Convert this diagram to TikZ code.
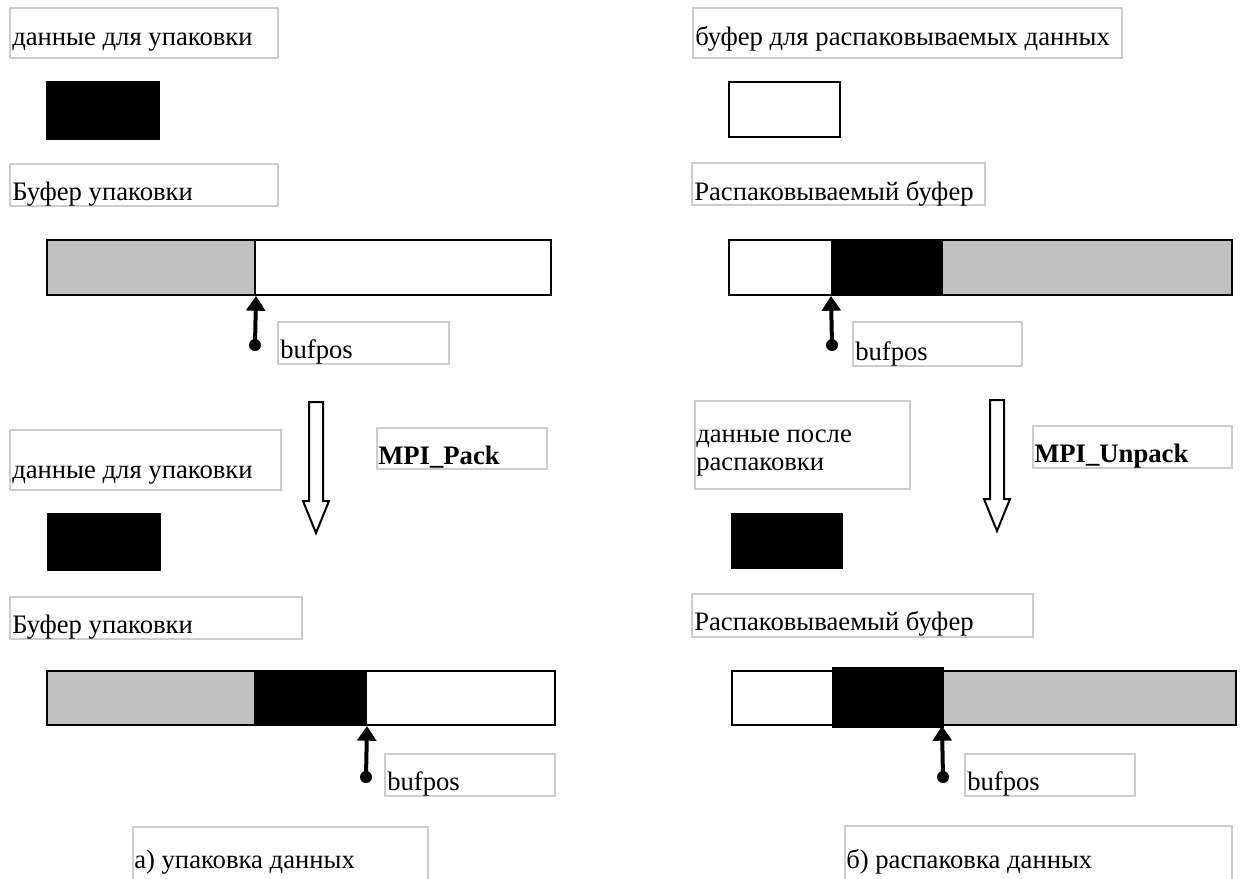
\documentclass[tikz,border=0pt]{standalone}
\usepackage{fontspec}
\setmainfont{Liberation Serif}
\newfontfamily\timesfont{Liberation Serif}
\usetikzlibrary{arrows.meta,fit}
\definecolor{boxgray}{RGB}{205,205,205}
\definecolor{bargray}{RGB}{192,192,192}
\begin{document}
\begin{tikzpicture}[x=0.75pt,y=-0.75pt,
  tbox/.style={draw=boxgray, line width=0.8pt, inner sep=0pt, fit={#1}},
  lbl/.style={anchor=base west, inner sep=0pt, font=\timesfont\fontsize{20}{24}\selectfont},
  blbl/.style={anchor=base west, inner sep=0pt, font=\timesfont\bfseries\fontsize{20}{24}\selectfont},
  seg/.style={draw=black, line width=1.5pt, inner sep=0pt, fit={#1}},
  ptr/.style={line width=3pt, -{Triangle[width=14pt,length=11pt]}},
  hollow/.style={draw=black, line width=1.5pt, fill=white, line join=miter}]
\useasboundingbox (0,0) rectangle (1240,879);

% ===== left: packing =====
\node[tbox={(10,8)(278,58)}] (lt1) {};
\node[lbl] (lt1t) at (12,45) {данные для упаковки};
\node[seg={(47,82)(159,139)}, fill=black] (ld1) {};
\node[tbox={(10,164)(278,206)}] (lt2) {};
\node[lbl] (lt2t) at (12,200) {Буфер упаковки};
\node[seg={(47,240)(255,295)}, fill=bargray] (lb1g) {};
\node[seg={(255,240)(551,295)}, fill=white] (lb1w) {};
\coordinate (lp1) at (255,345);
\draw[ptr] (lp1) -- (lb1g.south east);
\fill (lp1) circle (4.5pt);
\node[tbox={(278,322)(449,364)}] (lbp1) {};
\node[lbl] (lbp1t) at (280,358) {bufpos};

\draw[hollow] (309,402) -- (323,402) -- (323,501) -- (329,501) -- (316,533)
  -- (303,501) -- (309,501) -- cycle;
\node[tbox={(377,428)(547,469)}] (lmpi) {};
\node[blbl] (lmpit) at (378,464) {MPI\_Pack};

\node[tbox={(10,430)(281,490)}] (lt3) {};
\node[lbl] (lt3t) at (12,478) {данные для упаковки};
\node[seg={(48,514)(160,570)}, fill=black] (ld2) {};
\node[tbox={(10,597)(302,639)}] (lt4) {};
\node[lbl] (lt4t) at (12,633) {Буфер упаковки};
\node[seg={(47,671)(255,725)}, fill=bargray] (lb2g) {};
\node[seg={(255,671)(366,725)}, fill=black] (lb2k) {};
\node[seg={(366,671)(555,725)}, fill=white] (lb2w) {};
\coordinate (lp2) at (366,777);
\draw[ptr] (lp2) -- (lb2k.south east);
\fill (lp2) circle (4.5pt);
\node[tbox={(385,754)(555,796)}] (lbp2) {};
\node[lbl] (lbp2t) at (387,790) {bufpos};
\node[tbox={(133,827)(428,885)}] (lcap) {};
\node[lbl] (lcapt) at (134,868) {а) упаковка данных};

% ===== right: unpacking =====
\node[tbox={(693,8)(1122,58)}] (rt1) {};
\node[lbl] (rt1t) at (695,45) {буфер для распаковываемых данных};
\node[seg={(729,82)(840,137)}, fill=white] (rd1) {};
\node[tbox={(692,163)(985,205)}] (rt2) {};
\node[lbl] (rt2t) at (694,200) {Распаковываемый буфер};
\node[seg={(729,240)(832,295)}, fill=white] (rb1w) {};
\node[seg={(832,240)(942,295)}, fill=black] (rb1k) {};
\node[seg={(942,240)(1232,295)}, fill=bargray] (rb1g) {};
\coordinate (rp1) at (832,345);
\draw[ptr] (rp1) -- (rb1k.south west);
\fill (rp1) circle (4.5pt);
\node[tbox={(853,322)(1022,366)}] (rbp1) {};
\node[lbl] (rbp1t) at (855,360) {bufpos};

\node[tbox={(695,401)(910,489)}] (rt3) {};
\node[lbl] (rt3a) at (696,442) {данные после};
\node[lbl] (rt3b) at (696,470) {распаковки};
\draw[hollow] (990,400) -- (1004,400) -- (1004,499) -- (1010,499) -- (997,531)
  -- (984,499) -- (990,499) -- cycle;
\node[tbox={(1033,426)(1232,468)}] (rmpi) {};
\node[blbl] (rmpit) at (1034,462) {MPI\_Unpack};

\node[seg={(732,514)(842,568)}, fill=black] (rd2) {};
\node[tbox={(692,594)(1033,637)}] (rt4) {};
\node[lbl] (rt4t) at (694,630) {Распаковываемый буфер};
\node[seg={(732,671)(833,725)}, fill=white] (rb2w) {};
\node[seg={(943,671)(1236,725)}, fill=bargray] (rb2g) {};
\node[seg={(833,668)(943,727)}, fill=black] (rb2k) {};
\coordinate (rp2) at (943,777);
\draw[ptr] (rp2) -- (rb2g.south west);
\fill (rp2) circle (4.5pt);
\node[tbox={(965,754)(1135,796)}] (rbp2) {};
\node[lbl] (rbp2t) at (967,790) {bufpos};
\node[tbox={(845,826)(1232,885)}] (rcap) {};
\node[lbl] (rcapt) at (846,868) {б) распаковка данных};
\end{tikzpicture}
\end{document}
